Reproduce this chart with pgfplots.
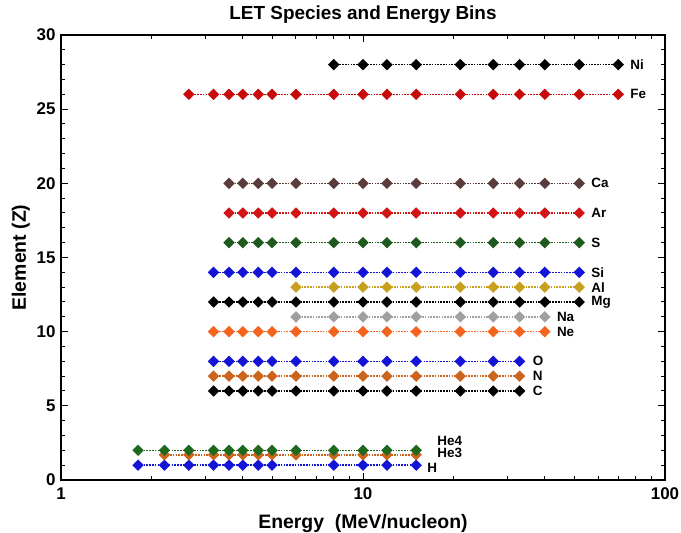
\documentclass[border=0pt]{standalone}
\usepackage{fontspec}
\setmainfont{Liberation Sans}
\usepackage{pgfplots}
\pgfplotsset{compat=1.18}

\definecolor{cblue}{RGB}{20,20,215}
\definecolor{cgreen}{RGB}{30,105,30}
\definecolor{cdkgreen}{RGB}{30,90,30}
\definecolor{cbrorange}{RGB}{205,100,30}
\definecolor{corange}{RGB}{245,100,30}
\definecolor{cgrey}{RGB}{160,160,160}
\definecolor{cgold}{RGB}{200,160,30}
\definecolor{cred}{RGB}{210,20,20}
\definecolor{cdkred}{RGB}{200,10,10}
\definecolor{cbrown}{RGB}{90,60,60}

\tikzset{
    bin/.style={line width=1.5bp, dash pattern=on 1.6bp off 1.2bp,
        mark=square*, mark size=3.3bp, mark options={solid, rotate=45}},
    lab/.style={font=\fontsize{13.5}{15}\selectfont\bfseries, anchor=west, inner sep=0pt},
}

\begin{document}
\begin{tikzpicture}
\useasboundingbox (-61bp,-53bp) rectangle (620bp,480bp);
\begin{axis}[
    at={(0,0)}, anchor=south west,
    scale only axis, width=604bp, height=445bp,
    xmode=log, xmin=1, xmax=100, ymin=0, ymax=30,
    xtick={1,10,100}, xticklabels={1,10,100},
    minor xtick={2,3,4,5,6,7,8,9,20,30,40,50,60,70,80,90},
    ytick={0,5,...,30}, minor y tick num=4,
    tick align=inside, major tick length=7bp, minor tick length=4bp,
    axis line style={line width=1.3bp},
    every tick/.style={line width=1bp, black},
    /pgf/number format/assume math mode=true,
    tick label style={font=\fontsize{17}{19}\selectfont\bfseries},
    xticklabel style={yshift=-4bp},
    yticklabel style={xshift=-2bp},
    label style={font=\fontsize{19.5}{22}\selectfont\bfseries},
    xlabel style={yshift=-8bp},
    title style={font=\fontsize{19}{22}\selectfont\bfseries, yshift=2bp},
    title={LET Species and Energy Bins},
    xlabel={Energy\ \ (MeV/nucleon)},
    ylabel={Element (Z)},
    clip=false,
]
% H, He3, He4
\addplot[bin, cblue] coordinates {(1.8,1)(2.2,1)(2.65,1)(3.2,1)(3.6,1)(4,1)(4.5,1)(5,1)(8,1)(10,1)(12,1)(15,1)};
\addplot[bin, cbrorange] coordinates {(2.2,1.7)(2.65,1.7)(3.2,1.7)(3.6,1.7)(4,1.7)(4.5,1.7)(5,1.7)(6,1.7)(8,1.7)(10,1.7)(12,1.7)(15,1.7)};
\addplot[bin, cgreen] coordinates {(1.8,2)(2.2,2)(2.65,2)(3.2,2)(3.6,2)(4,2)(4.5,2)(5,2)(6,2)(8,2)(10,2)(12,2)(15,2)};
% C, N, O
\addplot[bin, black] coordinates {(3.2,6)(3.6,6)(4,6)(4.5,6)(5,6)(6,6)(8,6)(10,6)(12,6)(15,6)(21,6)(27,6)(33,6)};
\addplot[bin, cbrorange] coordinates {(3.2,7)(3.6,7)(4,7)(4.5,7)(5,7)(6,7)(8,7)(10,7)(12,7)(15,7)(21,7)(27,7)(33,7)};
\addplot[bin, cblue] coordinates {(3.2,8)(3.6,8)(4,8)(4.5,8)(5,8)(6,8)(8,8)(10,8)(12,8)(15,8)(21,8)(27,8)(33,8)};
% Ne, Na
\addplot[bin, corange] coordinates {(3.2,10)(3.6,10)(4,10)(4.5,10)(5,10)(6,10)(8,10)(10,10)(12,10)(15,10)(21,10)(27,10)(33,10)(40,10)};
\addplot[bin, cgrey] coordinates {(6,11)(8,11)(10,11)(12,11)(15,11)(21,11)(27,11)(33,11)(40,11)};
% Mg, Al, Si
\addplot[bin, black] coordinates {(3.2,12)(3.6,12)(4,12)(4.5,12)(5,12)(6,12)(8,12)(10,12)(12,12)(15,12)(21,12)(27,12)(33,12)(40,12)(52,12)};
\addplot[bin, cgold] coordinates {(6,13)(8,13)(10,13)(12,13)(15,13)(21,13)(27,13)(33,13)(40,13)(52,13)};
\addplot[bin, cblue] coordinates {(3.2,14)(3.6,14)(4,14)(4.5,14)(5,14)(6,14)(8,14)(10,14)(12,14)(15,14)(21,14)(27,14)(33,14)(40,14)(52,14)};
% S, Ar, Ca
\addplot[bin, cdkgreen] coordinates {(3.6,16)(4,16)(4.5,16)(5,16)(6,16)(8,16)(10,16)(12,16)(15,16)(21,16)(27,16)(33,16)(40,16)(52,16)};
\addplot[bin, cred] coordinates {(3.6,18)(4,18)(4.5,18)(5,18)(6,18)(8,18)(10,18)(12,18)(15,18)(21,18)(27,18)(33,18)(40,18)(52,18)};
\addplot[bin, cbrown] coordinates {(3.6,20)(4,20)(4.5,20)(5,20)(6,20)(8,20)(10,20)(12,20)(15,20)(21,20)(27,20)(33,20)(40,20)(52,20)};
% Fe, Ni
\addplot[bin, cdkred] coordinates {(2.65,26)(3.2,26)(3.6,26)(4,26)(4.5,26)(5,26)(6,26)(8,26)(10,26)(12,26)(15,26)(21,26)(27,26)(33,26)(40,26)(52,26)(70,26)};
\addplot[bin, black] coordinates {(8,28)(10,28)(12,28)(15,28)(21,28)(27,28)(33,28)(40,28)(52,28)(70,28)};

\node[lab] at (70,28) [xshift=12bp] {Ni};
\node[lab] at (70,26) [xshift=12bp] {Fe};
\node[lab] at (52,20) [xshift=12bp] {Ca};
\node[lab] at (52,18) [xshift=12bp] {Ar};
\node[lab] at (52,16) [xshift=12bp] {S};
\node[lab] at (52,14) [xshift=12bp] {Si};
\node[lab] at (52,13) [xshift=12bp] {Al};
\node[lab] at (52,12) [xshift=12bp] {Mg};
\node[lab] at (40,11) [xshift=12bp] {Na};
\node[lab] at (40,10) [xshift=12bp] {Ne};
\node[lab] at (33,8) [xshift=13bp] {O};
\node[lab] at (33,7) [xshift=13bp] {N};
\node[lab] at (33,6) [xshift=13bp] {C};
\node[lab] at (15,2.6) [xshift=21bp] {He4};
\node[lab] at (15,1.8) [xshift=21bp] {He3};
\node[lab] at (15,0.8) [xshift=11bp] {H};
\end{axis}
\end{tikzpicture}
\end{document}
